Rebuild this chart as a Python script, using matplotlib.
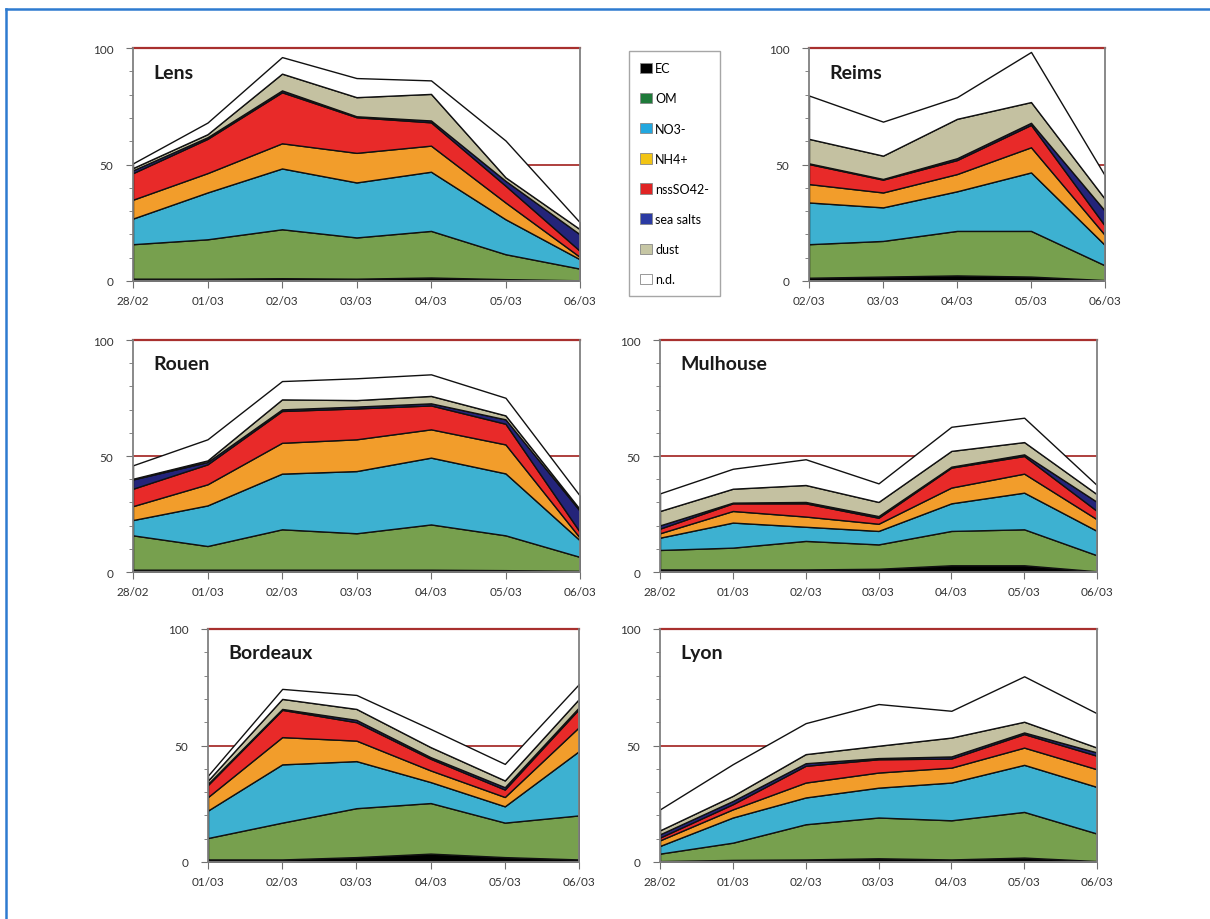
"""Stacked PM composition per city, 28/02 - 06/03."""

import matplotlib

matplotlib.use("Agg")
import matplotlib.pyplot as plt
from matplotlib.lines import Line2D
from matplotlib.patches import Patch
from matplotlib.ticker import MultipleLocator

plt.rcParams["font.family"] = ["Lato", "DejaVu Sans"]

W, H = 1210, 920

species = ["EC", "OM", "NO3-", "NH4+", "nssSO42-", "sea salts", "dust", "n.d."]
area_colors = ["#000000", "#77a04e", "#3db1d1", "#f29d2b", "#e82a29",
               "#24247a", "#c4c1a1", "#ffffff"]
legend_colors = ["#000000", "#1f7a3a", "#22a7df", "#f2c414", "#e02424",
                 "#2b3ba3", "#c6c6a4", "#ffffff"]

dates_full = ["28/02", "01/03", "02/03", "03/03", "04/03", "05/03", "06/03"]
dates_reims = ["02/03", "03/03", "04/03", "05/03", "06/03"]
dates_bordeaux = ["01/03", "02/03", "03/03", "04/03", "05/03", "06/03"]

# component values per species: EC, OM, NO3-, NH4+, nssSO42-, sea salts, dust, n.d.
lens = [
    [1.0, 1.0, 1.2, 1.0, 1.5, 0.8, 0.3],
    [14.8, 16.9, 21.0, 17.7, 20.0, 10.7, 5.0],
    [11.0, 20.1, 26.1, 23.6, 25.4, 15.0, 4.0],
    [8.1, 8.3, 10.8, 12.7, 11.2, 7.2, 1.0],
    [11.4, 14.7, 21.9, 15.3, 10.0, 7.2, 2.6],
    [1.2, 0.7, 0.8, 0.4, 0.8, 2.1, 7.1],
    [1.0, 1.3, 7.2, 8.2, 11.4, 1.5, 2.2],
    [2.0, 5.0, 7.1, 8.2, 5.8, 15.8, 2.9],
]
reims = [
    [1.4, 1.9, 2.4, 1.9, 0.4],
    [14.4, 15.3, 19.1, 19.6, 6.3],
    [17.9, 14.4, 17.0, 25.1, 8.7],
    [7.9, 6.4, 7.4, 10.8, 4.3],
    [8.6, 5.5, 6.0, 9.6, 4.0],
    [0.3, 0.3, 0.8, 0.9, 6.4],
    [10.5, 10.0, 16.9, 8.9, 5.1],
    [18.6, 14.6, 9.3, 21.5, 10.0],
]
rouen = [
    [1.0, 1.0, 1.0, 1.0, 1.0, 0.8, 0.5],
    [14.8, 10.2, 17.4, 15.7, 19.5, 15.0, 6.0],
    [6.6, 17.5, 24.0, 26.8, 28.8, 26.7, 7.1],
    [6.0, 9.1, 13.3, 13.7, 12.2, 12.5, 1.1],
    [7.5, 8.6, 13.7, 13.3, 10.3, 8.9, 2.5],
    [4.0, 1.0, 0.7, 0.8, 0.9, 1.9, 9.1],
    [0.3, 0.7, 4.3, 2.8, 3.2, 1.7, 0.7],
    [5.8, 9.1, 7.9, 9.4, 9.3, 7.6, 5.8],
]
mulhouse = [
    [1.1, 1.1, 1.1, 1.4, 2.9, 2.9, 0.3],
    [8.4, 9.4, 12.3, 10.5, 14.8, 15.5, 6.9],
    [5.3, 10.8, 6.1, 5.8, 11.9, 15.8, 10.5],
    [1.9, 5.0, 4.4, 3.1, 6.8, 8.2, 5.0],
    [2.0, 3.3, 5.7, 2.6, 8.6, 7.6, 3.6],
    [1.4, 0.3, 0.6, 0.7, 0.4, 0.7, 3.9],
    [6.2, 6.0, 7.3, 6.1, 6.8, 5.3, 3.3],
    [7.6, 8.6, 11.1, 8.0, 10.4, 10.5, 3.9],
]
bordeaux = [
    [1.1, 1.1, 2.1, 3.6, 2.1, 1.1],
    [9.2, 15.8, 21.0, 21.7, 14.8, 18.9],
    [11.8, 25.0, 20.2, 9.0, 7.0, 27.6],
    [5.8, 11.7, 8.8, 5.0, 4.0, 10.3],
    [5.2, 11.7, 7.9, 5.0, 3.2, 7.8],
    [0.5, 0.4, 1.0, 0.7, 1.0, 0.7],
    [1.4, 4.3, 4.7, 4.3, 2.9, 3.6],
    [2.1, 4.3, 6.0, 7.8, 7.1, 6.4],
]
lyon = [
    [0.4, 0.9, 1.1, 1.6, 1.1, 1.9, 0.4],
    [3.2, 7.4, 15.1, 17.5, 16.8, 19.6, 11.8],
    [3.3, 10.8, 11.5, 12.8, 16.2, 20.2, 20.0],
    [2.4, 3.5, 6.4, 6.5, 6.4, 7.4, 7.6],
    [1.2, 2.2, 7.2, 5.7, 3.9, 5.8, 5.8],
    [1.4, 1.4, 1.1, 0.5, 0.9, 0.7, 1.4],
    [1.7, 2.2, 3.9, 5.3, 8.1, 4.6, 2.1],
    [9.0, 13.6, 13.3, 17.9, 11.5, 19.5, 14.7],
]

# (name, data, dates, pixel box left, top, right, bottom)
panels = [
    ("Lens", lens, dates_full, 133, 49, 580, 282),
    ("Reims", reims, dates_reims, 809, 49, 1105, 282),
    ("Rouen", rouen, dates_full, 133, 341, 580, 573),
    ("Mulhouse", mulhouse, dates_full, 660, 341, 1097, 573),
    ("Bordeaux", bordeaux, dates_bordeaux, 208, 630, 579, 863),
    ("Lyon", lyon, dates_full, 660, 630, 1097, 863),
]

fig = plt.figure(figsize=(W / 100, H / 100), dpi=100)

for name, data, dates, x0, y0, x1, y1 in panels:
    ax = fig.add_axes([x0 / W, 1 - y1 / H, (x1 - x0) / W, (y1 - y0) / H])
    xs = list(range(len(dates)))
    ax.axhline(50, color="#a8302e", lw=1.3, zorder=0)
    ax.axhline(100, color="#a8302e", lw=1.6, zorder=0, clip_on=False)
    ax.stackplot(xs, *data, colors=area_colors, edgecolor="#111111",
                 linewidth=1.0, zorder=2)
    ax.set_xlim(0, len(dates) - 1)
    ax.set_ylim(0, 100)
    ax.set_xticks(xs)
    ax.set_xticklabels(dates)
    ax.set_yticks([0, 50, 100])
    ax.yaxis.set_minor_locator(MultipleLocator(10))
    ax.tick_params(axis="both", which="both", direction="out",
                   color="#707070", labelsize=8.5, labelcolor="#333333")
    ax.tick_params(axis="x", length=5, pad=5)
    ax.tick_params(axis="y", which="major", length=5, pad=9)
    ax.tick_params(axis="y", which="minor", length=3)
    ax.spines["top"].set_visible(False)
    for side in ("left", "bottom", "right"):
        ax.spines[side].set_color("#808080")
        ax.spines[side].set_linewidth(1.3)
    ax.annotate(name, xy=(0, 1), xycoords="axes fraction",
                xytext=(20, -24), textcoords="offset pixels",
                fontsize=14, fontweight="bold", color="#1a1a1a",
                va="center", ha="left", zorder=5)

handles = [Patch(facecolor=c, edgecolor="#888888", linewidth=0.6)
           for c in legend_colors]
fig.legend(handles, species, loc="upper left",
           bbox_to_anchor=(629 / W, 1 - 52 / H), fontsize=9,
           frameon=True, fancybox=False, edgecolor="#909090",
           handlelength=0.9, handleheight=0.9, handletextpad=0.3,
           labelspacing=1.45, borderpad=0.9, borderaxespad=0)

# blue page frame
fig.add_artist(Line2D([5.5 / W, 5.5 / W], [0, 1 - 10 / H],
                      color="#2e7bd0", lw=1.8, transform=fig.transFigure))
fig.add_artist(Line2D([5.5 / W, 1], [1 - 10 / H, 1 - 10 / H],
                      color="#2e7bd0", lw=1.8, transform=fig.transFigure))

fig.savefig("out.png", dpi=100)
